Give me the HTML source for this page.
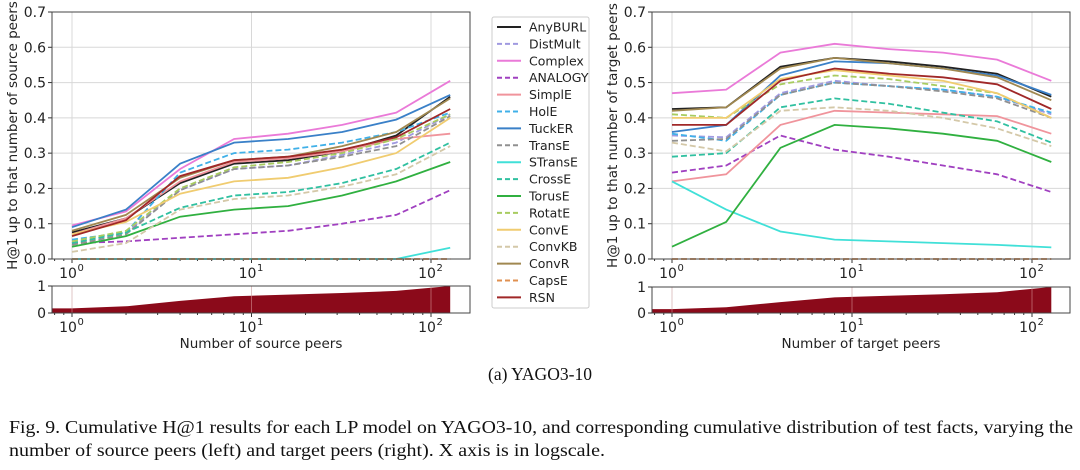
<!DOCTYPE html>
<html><head><meta charset="utf-8"><style>
body{margin:0;background:#fff;width:1080px;height:470px;overflow:hidden}
svg{display:block}
text{font-family:"DejaVu Sans","Liberation Sans",sans-serif;fill:#222}
.cap{font-family:"Liberation Serif",serif;fill:#111}
</style></head><body>
<svg id="fig" width="1080" height="470" viewBox="0 0 1080 470" xmlns="http://www.w3.org/2000/svg">
<text class="cap" x="540" y="380" font-size="18" text-anchor="middle" textLength="104" lengthAdjust="spacingAndGlyphs">(a) YAGO3-10</text>
<text class="cap" x="9" y="433" font-size="18" textLength="1064" lengthAdjust="spacingAndGlyphs">Fig. 9.  Cumulative H@1 results for each LP model on YAGO3-10, and corresponding cumulative distribution of test facts, varying the</text>
<text class="cap" x="9" y="456" font-size="18" textLength="596" lengthAdjust="spacingAndGlyphs">number of source peers (left) and target peers (right). X axis is in logscale.</text>
</svg>
<script>
const xs=[1,2,4,8,16,32,64,128];
const models=["AnyBURL","DistMult","Complex","ANALOGY","SimplE","HolE","TuckER","TransE","STransE","CrossE","TorusE","RotatE","ConvE","ConvKB","ConvR","CapsE","RSN"];
const colors=["#222222","#a09ae0","#ea7ad8","#a040c0","#f0949c","#40b0e8","#3a80c8","#909090","#40e0d8","#30c0a0","#30b040","#a8cc60","#f0cc70","#d4c8a8","#a08850","#e09050","#a02828"];
const dashed=[false,true,false,true,false,true,false,true,false,true,false,true,false,true,false,true,false];
const srcVals={
AnyBURL:[0.075,0.115,0.215,0.27,0.28,0.305,0.35,0.46],
DistMult:[0.045,0.075,0.195,0.255,0.265,0.295,0.33,0.41],
Complex:[0.095,0.135,0.255,0.34,0.355,0.38,0.415,0.505],
ANALOGY:[0.045,0.05,0.06,0.07,0.08,0.1,0.125,0.195],
SimplE:[0.07,0.115,0.22,0.275,0.285,0.305,0.34,0.355],
HolE:[0.055,0.075,0.245,0.30,0.31,0.33,0.36,0.415],
TuckER:[0.09,0.14,0.27,0.33,0.34,0.36,0.395,0.465],
TransE:[0.04,0.07,0.195,0.255,0.265,0.29,0.32,0.405],
STransE:[0,0,0,0,0,0,0,0.032],
CrossE:[0.045,0.075,0.145,0.18,0.19,0.215,0.255,0.33],
TorusE:[0.035,0.065,0.12,0.14,0.15,0.18,0.22,0.275],
RotatE:[0.05,0.08,0.2,0.26,0.275,0.30,0.34,0.41],
ConvE:[0.07,0.105,0.185,0.22,0.23,0.26,0.30,0.40],
ConvKB:[0.02,0.045,0.14,0.17,0.18,0.205,0.24,0.32],
ConvR:[0.08,0.125,0.23,0.28,0.29,0.32,0.36,0.455],
CapsE:[0,0,0,0,0,0,0,0],
RSN:[0.065,0.11,0.235,0.28,0.29,0.31,0.345,0.425]};
const tgtVals={
AnyBURL:[0.425,0.43,0.545,0.57,0.56,0.545,0.525,0.46],
DistMult:[0.35,0.345,0.47,0.505,0.49,0.48,0.46,0.41],
Complex:[0.47,0.48,0.585,0.61,0.595,0.585,0.565,0.505],
ANALOGY:[0.245,0.265,0.35,0.31,0.29,0.265,0.24,0.19],
SimplE:[0.22,0.24,0.38,0.42,0.415,0.41,0.405,0.355],
HolE:[0.355,0.335,0.465,0.50,0.49,0.48,0.46,0.415],
TuckER:[0.36,0.38,0.52,0.56,0.555,0.54,0.52,0.465],
TransE:[0.335,0.34,0.465,0.50,0.49,0.475,0.455,0.40],
STransE:[0.22,0.14,0.078,0.055,0.05,0.045,0.04,0.033],
CrossE:[0.29,0.30,0.43,0.455,0.44,0.415,0.39,0.33],
TorusE:[0.035,0.105,0.315,0.38,0.37,0.355,0.335,0.275],
RotatE:[0.41,0.40,0.495,0.52,0.51,0.49,0.47,0.40],
ConvE:[0.40,0.40,0.51,0.535,0.52,0.505,0.47,0.40],
ConvKB:[0.33,0.305,0.42,0.43,0.42,0.40,0.37,0.32],
ConvR:[0.42,0.43,0.54,0.57,0.555,0.54,0.515,0.45],
CapsE:[0,0,0,0,0,0,0,0],
RSN:[0.38,0.38,0.505,0.54,0.525,0.515,0.495,0.425]};
const srcDist=[0.17,0.25,0.45,0.62,0.68,0.74,0.82,1.0];
const tgtDist=[0.15,0.22,0.42,0.60,0.66,0.72,0.80,1.0];
const yTicks=[0,0.1,0.2,0.3,0.4,0.5,0.6,0.7];
const yTickLabels=["0.0","0.1","0.2","0.3","0.4","0.5","0.6","0.7"];

const NS="http://www.w3.org/2000/svg";
const svg=document.getElementById('fig');
function mk(tag,attrs,parent){const e=document.createElementNS(NS,tag);for(const k in attrs)e.setAttribute(k,attrs[k]);(parent||svg).appendChild(e);return e;}

function panel(P){
  const g=mk('g',{});
  
  
  const X=v=>P.x0+Math.log10(v)*P.dec;
  const Y=v=>P.bottom-(v/0.7)*(P.bottom-P.top);
  const Y2=v=>P.b2-v*(P.b2-P.t2);
  yTicks.forEach((t,i)=>{
    const gl=mk('line',{x1:P.left,x2:P.right,y1:Y(t),y2:Y(t),stroke:'#d8d8d8','stroke-width':1},g);
    
    
    mk('line',{x1:P.left-4,x2:P.left,y1:Y(t),y2:Y(t),stroke:'#333'},g);
    const tl=mk('text',{x:P.left-6,y:Y(t)+5,'font-size':14,'text-anchor':'end'},g);
    tl.textContent=yTickLabels[i];
    
    
  });
  [1,10,100].forEach((d,i)=>{
    [[P.top,P.bottom],[P.t2,P.b2]].forEach(([a,b])=>{
      mk('line',{x1:X(d),x2:X(d),y1:a,y2:b,stroke:'#d8d8d8'},g);
    });
    [P.bottom,P.b2].forEach(yy=>{
      mk('line',{x1:X(d),x2:X(d),y1:yy,y2:yy+4,stroke:'#333'},g);
      const t=mk('text',{x:X(d)-4,y:yy+19,'font-size':14,'text-anchor':'middle'},g);
      t.textContent='10';
      
      
      const s=mk('text',{x:X(d)+5.5,y:yy+12,'font-size':10},g);
      s.textContent=String(i);
    });
  });
  for(let d=0.1;d<=100;d*=10){for(let m=2;m<=9;m++){const v=d*m;const px=X(v);if(px<P.left||px>P.right)continue;
    [P.bottom,P.b2].forEach(yy=>mk('line',{x1:px,x2:px,y1:yy,y2:yy+2,stroke:'#333'},g));}}
  models.forEach((m,i)=>{
    const vals=P.vals[m];
    const pts=xs.map((x,j)=>X(x).toFixed(1)+','+Y(vals[j]).toFixed(1)).join(' ');
    const pl=mk('polyline',{points:pts,fill:'none',stroke:colors[i],'stroke-width':1.8,'stroke-dasharray':dashed[i]?'6,3':'none'},g);
    
    
  });
  const fr=mk('rect',{x:P.left,y:P.top,width:P.right-P.left,height:P.bottom-P.top,fill:'none',stroke:'#444'},g);
  
  
  let d='M'+P.left+','+P.b2+' L'+P.left+','+Y2(P.dist[0]);
  xs.forEach((x,j)=>{d+=' L'+X(x).toFixed(1)+','+Y2(P.dist[j]).toFixed(1);});
  d+=' L'+X(128).toFixed(1)+','+P.b2+' Z';
  const ar=mk('path',{d:d,fill:'#8b0a1a'},g);
  
  
  [1,10,100].forEach(dd=>mk('line',{x1:X(dd),x2:X(dd),y1:P.t2,y2:P.b2,stroke:'#e8b0b0','stroke-width':0.8,opacity:0.6},g));
  mk('rect',{x:P.left,y:P.t2,width:P.right-P.left,height:P.b2-P.t2,fill:'none',stroke:'#444'},g);
  [[1,'1'],[0,'0']].forEach(([v,l])=>{
    mk('line',{x1:P.left-4,x2:P.left,y1:Y2(v),y2:Y2(v),stroke:'#333'},g);
    const t=mk('text',{x:P.left-6,y:Y2(v)+5,'font-size':14,'text-anchor':'end'},g);t.textContent=l;
  });
  const yl=mk('text',{x:0,y:0,'font-size':13.5,'text-anchor':'middle',transform:`translate(${P.ylx},${(P.top+P.bottom)/2}) rotate(-90)`},g);
  yl.textContent=P.ylabel;
  
  
  const xl=mk('text',{x:(P.left+P.right)/2,y:348,'font-size':13.5,'text-anchor':'middle'},g);
  xl.textContent=P.xlabel;
  
  
}
panel({name:'source-peers-panel',left:52,right:470,top:12,bottom:259,t2:286,b2:313,x0:72,dec:179.5,vals:srcVals,dist:srcDist,ylabel:'H@1 up to that number of source peers',xlabel:'Number of source peers',ylx:17});
panel({name:'target-peers-panel',left:652,right:1070,top:12,bottom:259,t2:287,b2:313,x0:672,dec:180,vals:tgtVals,dist:tgtDist,ylabel:'H@1 up to that number of target peers',xlabel:'Number of target peers',ylx:617});
const lg=mk('g',{});


mk('rect',{x:492,y:17,width:97,height:291,fill:'#fff',stroke:'#ccc',rx:2},lg);
models.forEach((m,i)=>{
  const y=27+i*16.9;
  const e=mk('g',{},lg);
  
  
  mk('line',{x1:497,x2:521,y1:y,y2:y,stroke:colors[i],'stroke-width':2,'stroke-dasharray':dashed[i]?'5,3':'none'},e);
  const t=mk('text',{x:529,y:y+4.5,'font-size':12.5},e);t.textContent=m;
});
</script>
</body></html>
